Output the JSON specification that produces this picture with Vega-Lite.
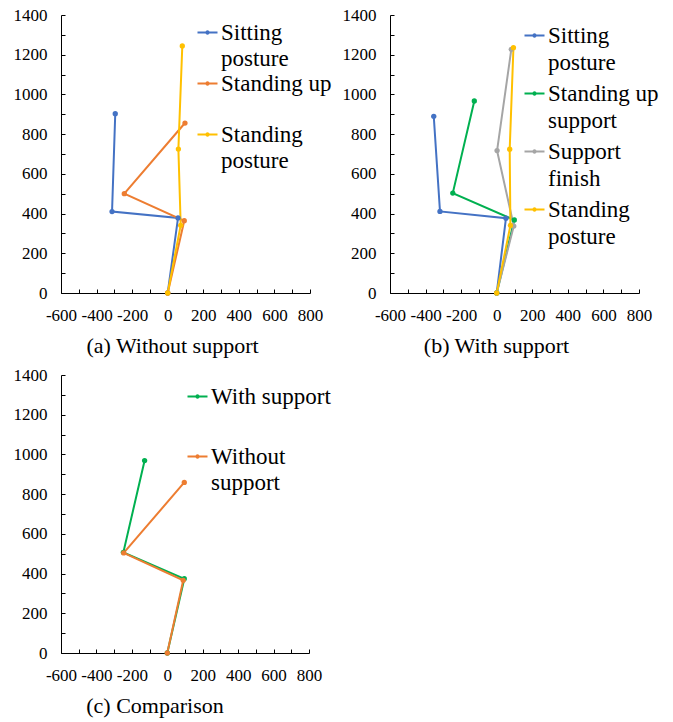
{
  "$schema": "https://vega.github.io/schema/vega-lite/v6.json",
  "background": "white",
  "padding": {"left": 13, "top": 6, "right": 5, "bottom": 5},
  "columns": 2,
  "spacing": {"row": 82, "column": 80},
  "bounds": "flush",
  "resolve": {"scale": {"color": "independent", "x": "independent", "y": "independent"}, "legend": {"color": "independent"}},
  "data": {"values": [
    {"p": "a", "s": "Sitting posture", "i": 0, "x": 0, "y": 0},
    {"p": "a", "s": "Sitting posture", "i": 1, "x": 58, "y": 378},
    {"p": "a", "s": "Sitting posture", "i": 2, "x": -313, "y": 410},
    {"p": "a", "s": "Sitting posture", "i": 3, "x": -295, "y": 903},
    {"p": "a", "s": "Standing up", "i": 0, "x": 0, "y": 0},
    {"p": "a", "s": "Standing up", "i": 1, "x": 93, "y": 364},
    {"p": "a", "s": "Standing up", "i": 2, "x": -244, "y": 500},
    {"p": "a", "s": "Standing up", "i": 3, "x": 97, "y": 856},
    {"p": "a", "s": "Standing posture", "i": 0, "x": 0, "y": 0},
    {"p": "a", "s": "Standing posture", "i": 1, "x": 73, "y": 341},
    {"p": "a", "s": "Standing posture", "i": 2, "x": 60, "y": 725},
    {"p": "a", "s": "Standing posture", "i": 3, "x": 82, "y": 1244},
    {"p": "b", "s": "Sitting posture", "i": 0, "x": 0, "y": 0},
    {"p": "b", "s": "Sitting posture", "i": 1, "x": 52, "y": 377},
    {"p": "b", "s": "Sitting posture", "i": 2, "x": -319, "y": 411},
    {"p": "b", "s": "Sitting posture", "i": 3, "x": -354, "y": 890},
    {"p": "b", "s": "Standing up support", "i": 0, "x": 0, "y": 0},
    {"p": "b", "s": "Standing up support", "i": 1, "x": 99, "y": 368},
    {"p": "b", "s": "Standing up support", "i": 2, "x": -247, "y": 503},
    {"p": "b", "s": "Standing up support", "i": 3, "x": -126, "y": 967},
    {"p": "b", "s": "Support finish", "i": 0, "x": 0, "y": 0},
    {"p": "b", "s": "Support finish", "i": 1, "x": 96, "y": 337},
    {"p": "b", "s": "Support finish", "i": 2, "x": 2, "y": 717},
    {"p": "b", "s": "Support finish", "i": 3, "x": 82, "y": 1227},
    {"p": "b", "s": "Standing posture", "i": 0, "x": 0, "y": 0},
    {"p": "b", "s": "Standing posture", "i": 1, "x": 77, "y": 340},
    {"p": "b", "s": "Standing posture", "i": 2, "x": 73, "y": 724},
    {"p": "b", "s": "Standing posture", "i": 3, "x": 94, "y": 1235},
    {"p": "c", "s": "With support", "i": 0, "x": 0, "y": 0},
    {"p": "c", "s": "With support", "i": 1, "x": 96, "y": 374},
    {"p": "c", "s": "With support", "i": 2, "x": -248, "y": 507},
    {"p": "c", "s": "With support", "i": 3, "x": -128, "y": 969},
    {"p": "c", "s": "Without support", "i": 0, "x": 0, "y": 0},
    {"p": "c", "s": "Without support", "i": 1, "x": 90, "y": 366},
    {"p": "c", "s": "Without support", "i": 2, "x": -246, "y": 504},
    {"p": "c", "s": "Without support", "i": 3, "x": 96, "y": 859}
  ]},
  "config": {
    "view": {"stroke": null},
    "font": "Liberation Serif",
    "axis": {
      "domainColor": "#000", "tickColor": "#000", "labelColor": "#000",
      "labelFont": "Liberation Serif", "labelFontSize": 17,
      "tickSize": -4, "labelPadding": 18, "grid": false, "title": null,
      "labelFlush": false, "labelOverlap": false, "domainWidth": 1, "tickWidth": 1
    },
    "legend": {
      "orient": "none", "title": null, "labelFont": "Liberation Serif", "labelFontSize": 23,
      "labelColor": "#000", "symbolType": "M-1,0H1M-0.12,0A0.12,0.12,0,1,0,0.12,0A0.12,0.12,0,1,0,-0.12,0",
      "symbolSize": 400, "symbolStrokeWidth": 2, "labelOffset": 2, "padding": 0,
      "rowPadding": 0, "labelLimit": 400
    },
    "title": {"font": "Liberation Serif", "fontSize": 22, "fontWeight": "normal", "color": "#000", "orient": "bottom", "anchor": "middle", "frame": "group", "offset": 13}
  },
  "concat": [
    {
      "width": 249, "height": 278,
      "title": {"text": "(a) Without support", "dx": -13},
      "transform": [{"filter": "datum.p == 'a'"}],
      "mark": {"type": "line", "strokeWidth": 2, "point": {"filled": true, "size": 28}},
      "encoding": {
        "x": {"field": "x", "type": "quantitative", "scale": {"domain": [-600, 800], "nice": false, "zero": false},
              "axis": {"values": [-600,-500,-400,-300,-200,-100,0,100,200,300,400,500,600,700,800], "labelExpr": "datum.value % 200 == 0 ? '' + datum.value : ''"}},
        "y": {"field": "y", "type": "quantitative", "scale": {"domain": [0, 1400], "nice": false},
              "axis": {"values": [0,100,200,300,400,500,600,700,800,900,1000,1100,1200,1300,1400], "labelExpr": "datum.value % 200 == 0 ? '' + datum.value : ''"}},
        "order": {"field": "i", "type": "quantitative"},
        "color": {"field": "s", "type": "nominal",
                  "scale": {"domain": ["Sitting posture", "Standing up", "Standing posture"], "range": ["#4472C4", "#ED7D31", "#FFC000"]},
                  "legend": {"legendX": 135, "legendY": 6, "rowPadding": 1,
                             "labelExpr": "datum.label == 'Sitting posture' ? ['Sitting','posture'] : datum.label == 'Standing up' ? ['Standing up',''] : ['Standing','posture']",
                             "encode": {"labels": {"update": {"lineHeight": {"value": 26}}}}}}
      }
    },
    {
      "width": 249, "height": 278,
      "title": {"text": "(b) With support", "dx": -18},
      "transform": [{"filter": "datum.p == 'b'"}],
      "mark": {"type": "line", "strokeWidth": 2, "point": {"filled": true, "size": 28}},
      "encoding": {
        "x": {"field": "x", "type": "quantitative", "scale": {"domain": [-600, 800], "nice": false, "zero": false},
              "axis": {"values": [-600,-500,-400,-300,-200,-100,0,100,200,300,400,500,600,700,800], "labelExpr": "datum.value % 200 == 0 ? '' + datum.value : ''"}},
        "y": {"field": "y", "type": "quantitative", "scale": {"domain": [0, 1400], "nice": false},
              "axis": {"values": [0,100,200,300,400,500,600,700,800,900,1000,1100,1200,1300,1400], "labelExpr": "datum.value % 200 == 0 ? '' + datum.value : ''"}},
        "order": {"field": "i", "type": "quantitative"},
        "color": {"field": "s", "type": "nominal",
                  "scale": {"domain": ["Sitting posture", "Standing up support", "Support finish", "Standing posture"], "range": ["#4472C4", "#00B050", "#A5A5A5", "#FFC000"]},
                  "legend": {"legendX": 133, "legendY": 9, "rowPadding": 7,
                             "labelExpr": "datum.label == 'Sitting posture' ? ['Sitting','posture'] : datum.label == 'Standing up support' ? ['Standing up','support'] : datum.label == 'Support finish' ? ['Support','finish'] : ['Standing','posture']",
                             "encode": {"labels": {"update": {"lineHeight": {"value": 27}}}}}}
      }
    },
    {
      "width": 248, "height": 278,
      "title": {"text": "(c) Comparison", "dx": -30},
      "transform": [{"filter": "datum.p == 'c'"}],
      "mark": {"type": "line", "strokeWidth": 2, "point": {"filled": true, "size": 28}},
      "encoding": {
        "x": {"field": "x", "type": "quantitative", "scale": {"domain": [-600, 800], "nice": false, "zero": false},
              "axis": {"values": [-600,-500,-400,-300,-200,-100,0,100,200,300,400,500,600,700,800], "labelExpr": "datum.value % 200 == 0 ? '' + datum.value : ''"}},
        "y": {"field": "y", "type": "quantitative", "scale": {"domain": [0, 1400], "nice": false},
              "axis": {"values": [0,100,200,300,400,500,600,700,800,900,1000,1100,1200,1300,1400], "labelExpr": "datum.value % 200 == 0 ? '' + datum.value : ''"}},
        "order": {"field": "i", "type": "quantitative"},
        "color": {"field": "s", "type": "nominal",
                  "scale": {"domain": ["With support", "Without support"], "range": ["#00B050", "#ED7D31"]},
                  "legend": {"legendX": 125, "legendY": 10, "rowPadding": 10,
                             "labelExpr": "datum.label == 'With support' ? ['With support',''] : ['Without','support']",
                             "encode": {"labels": {"update": {"lineHeight": {"value": 26}}}}}}
      }
    }
  ]
}
